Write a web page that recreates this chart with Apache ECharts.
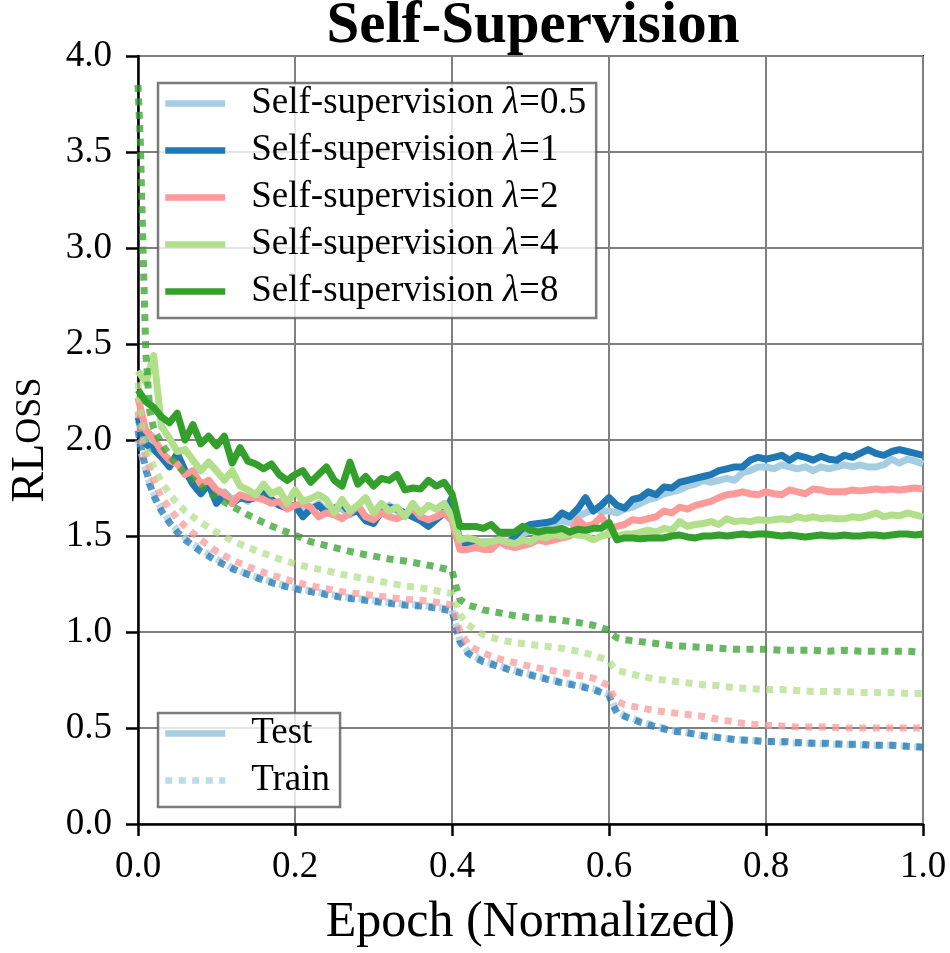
<!DOCTYPE html>
<html>
<head>
<meta charset="utf-8">
<script src="https://cdn.jsdelivr.net/npm/echarts@6/dist/echarts.min.js"></script>
<style>
  html, body { margin: 0; padding: 0; background: #fff; }
  #main { width: 950px; height: 953px; }
</style>
</head>
<body>
<div id="main"></div>
<script>
// 数据：测试曲线每 0.01 一个点（x = 0 ~ 1）
const lambdas = ['0.5', '1', '2', '4', '8'];
const colors = ['#a6cee3', '#1f78b4', '#fb9a99', '#b2df8a', '#33a02c'];

const test05 = [2.10, 2.00, 1.96, 1.92, 1.88, 1.90, 1.83, 1.79, 1.75, 1.76,
  1.70, 1.73, 1.69, 1.71, 1.68, 1.72, 1.70, 1.68, 1.66, 1.67,
  1.65, 1.63, 1.64, 1.67, 1.63, 1.65, 1.64, 1.61, 1.64, 1.60,
  1.58, 1.62, 1.66, 1.63, 1.61, 1.62, 1.59, 1.57, 1.60, 1.63,
  1.66, 1.47, 1.46, 1.46, 1.47, 1.47, 1.48, 1.47, 1.49, 1.51,
  1.53, 1.54, 1.55, 1.565, 1.58, 1.57, 1.60, 1.62, 1.64, 1.63,
  1.63, 1.62, 1.64, 1.65, 1.67, 1.69, 1.70, 1.72, 1.73, 1.74,
  1.76, 1.77, 1.79, 1.78, 1.79, 1.80, 1.79, 1.83, 1.84, 1.86,
  1.86, 1.85, 1.87, 1.86, 1.85, 1.86, 1.84, 1.86, 1.85, 1.86,
  1.87, 1.86, 1.87, 1.86, 1.86, 1.87, 1.90, 1.88, 1.90, 1.89, 1.875];
const test1 = [2.12, 1.98, 1.95, 1.91, 1.86, 1.93, 1.84, 1.77, 1.72, 1.77,
  1.67, 1.72, 1.67, 1.70, 1.69, 1.70, 1.74, 1.69, 1.66, 1.645,
  1.66, 1.60, 1.64, 1.66, 1.62, 1.64, 1.67, 1.62, 1.63, 1.58,
  1.565, 1.63, 1.65, 1.64, 1.62, 1.60, 1.58, 1.55, 1.585, 1.62,
  1.70, 1.46, 1.46, 1.47, 1.46, 1.46, 1.48, 1.45, 1.50, 1.54,
  1.56, 1.565, 1.57, 1.58, 1.62, 1.60, 1.64, 1.70, 1.63, 1.66,
  1.70, 1.66, 1.645, 1.69, 1.70, 1.73, 1.715, 1.755, 1.75, 1.78,
  1.79, 1.80, 1.81, 1.82, 1.84, 1.85, 1.86, 1.86, 1.895, 1.91,
  1.90, 1.91, 1.92, 1.895, 1.92, 1.91, 1.895, 1.915, 1.90, 1.895,
  1.92, 1.91, 1.93, 1.95, 1.93, 1.92, 1.94, 1.95, 1.94, 1.93, 1.92];
const test2 = [2.22, 2.05, 2.01, 1.94, 1.895, 1.875, 1.82, 1.84, 1.77, 1.79,
  1.74, 1.72, 1.67, 1.715, 1.70, 1.70, 1.69, 1.67, 1.68, 1.64,
  1.66, 1.67, 1.65, 1.60, 1.62, 1.61, 1.59, 1.62, 1.66, 1.60,
  1.585, 1.62, 1.60, 1.59, 1.61, 1.645, 1.60, 1.585, 1.60, 1.62,
  1.58, 1.43, 1.43, 1.44, 1.43, 1.43, 1.47, 1.45, 1.44, 1.45,
  1.46, 1.48, 1.47, 1.48, 1.49, 1.50, 1.585, 1.55, 1.56, 1.60,
  1.54, 1.55, 1.56, 1.585, 1.58, 1.59, 1.60, 1.63, 1.62, 1.65,
  1.64, 1.66, 1.67, 1.68, 1.70, 1.715, 1.72, 1.73, 1.72, 1.715,
  1.73, 1.72, 1.715, 1.74, 1.73, 1.72, 1.745, 1.74, 1.73, 1.73,
  1.73, 1.74, 1.735, 1.74, 1.745, 1.74, 1.745, 1.74, 1.745, 1.75, 1.745];
const test4 = [2.36, 2.30, 2.44, 2.07, 2.01, 1.94, 1.95, 1.895, 1.84, 1.885,
  1.84, 1.79, 1.84, 1.76, 1.74, 1.715, 1.77, 1.72, 1.74, 1.67,
  1.74, 1.68, 1.695, 1.715, 1.69, 1.62, 1.69, 1.63, 1.66, 1.70,
  1.62, 1.67, 1.63, 1.65, 1.60, 1.67, 1.62, 1.66, 1.64, 1.67,
  1.60, 1.48, 1.49, 1.48, 1.46, 1.47, 1.48, 1.47, 1.46, 1.48,
  1.47, 1.50, 1.49, 1.51, 1.50, 1.51, 1.505, 1.50, 1.48, 1.50,
  1.51, 1.50, 1.51, 1.51, 1.52, 1.53, 1.52, 1.54, 1.53, 1.575,
  1.55, 1.56, 1.565, 1.575, 1.56, 1.59, 1.575, 1.58, 1.575, 1.585,
  1.58, 1.585, 1.59, 1.585, 1.60, 1.59, 1.60, 1.59, 1.595, 1.59,
  1.59, 1.60, 1.595, 1.605, 1.62, 1.60, 1.61, 1.605, 1.62, 1.61, 1.60];
const test8 = [2.26, 2.20, 2.17, 2.12, 2.09, 2.14, 2.00, 2.08, 1.98, 2.02,
  1.97, 2.02, 1.88, 1.96, 1.89, 1.875, 1.85, 1.875, 1.82, 1.79,
  1.82, 1.84, 1.78, 1.82, 1.86, 1.79, 1.76, 1.885, 1.77, 1.81,
  1.76, 1.80, 1.79, 1.82, 1.74, 1.75, 1.745, 1.79, 1.76, 1.78,
  1.72, 1.55, 1.55, 1.55, 1.54, 1.56, 1.52, 1.52, 1.52, 1.55,
  1.53, 1.52, 1.53, 1.53, 1.54, 1.52, 1.535, 1.53, 1.54, 1.54,
  1.57, 1.48, 1.49, 1.49, 1.485, 1.49, 1.49, 1.49, 1.50, 1.505,
  1.495, 1.49, 1.50, 1.50, 1.505, 1.50, 1.505, 1.51, 1.505, 1.51,
  1.51, 1.505, 1.50, 1.505, 1.50, 1.495, 1.50, 1.505, 1.50, 1.50,
  1.505, 1.50, 1.50, 1.505, 1.505, 1.50, 1.505, 1.51, 1.51, 1.505, 1.51];

// 训练曲线（点距不均匀）
const trainX = [0, 0.003, 0.006, 0.01, 0.015, 0.02, 0.03, 0.04, 0.05, 0.06,
  0.08, 0.10, 0.12, 0.14, 0.16, 0.18, 0.20, 0.22, 0.24, 0.26,
  0.28, 0.30, 0.32, 0.34, 0.36, 0.38, 0.40, 0.405, 0.41, 0.42,
  0.43, 0.44, 0.46, 0.48, 0.50, 0.52, 0.54, 0.56, 0.58, 0.60,
  0.605, 0.61, 0.62, 0.64, 0.66, 0.68, 0.70, 0.72, 0.74, 0.76,
  0.78, 0.80, 0.82, 0.84, 0.86, 0.88, 0.90, 0.92, 0.94, 0.96,
  0.98, 1.00];
const train05 = [2.00, 1.95, 1.90, 1.84, 1.77, 1.72, 1.64, 1.58, 1.53, 1.49,
  1.43, 1.38, 1.335, 1.30, 1.275, 1.25, 1.23, 1.215, 1.20, 1.185,
  1.175, 1.165, 1.155, 1.145, 1.14, 1.13, 1.115, 1.04, 0.96, 0.90,
  0.87, 0.85, 0.825, 0.80, 0.78, 0.76, 0.74, 0.725, 0.705, 0.675,
  0.63, 0.59, 0.565, 0.535, 0.51, 0.49, 0.475, 0.46, 0.45, 0.44,
  0.435, 0.43, 0.425, 0.42, 0.42, 0.415, 0.415, 0.41, 0.41, 0.41,
  0.405, 0.40];
const train1 = [2.05, 1.98, 1.92, 1.85, 1.77, 1.71, 1.63, 1.57, 1.52, 1.48,
  1.42, 1.37, 1.33, 1.30, 1.27, 1.245, 1.225, 1.21, 1.195, 1.18,
  1.17, 1.16, 1.15, 1.14, 1.135, 1.125, 1.11, 1.03, 0.95, 0.89,
  0.865, 0.845, 0.82, 0.795, 0.775, 0.755, 0.735, 0.72, 0.70, 0.67,
  0.62, 0.58, 0.56, 0.53, 0.505, 0.485, 0.475, 0.46, 0.45, 0.44,
  0.435, 0.43, 0.43, 0.425, 0.42, 0.42, 0.415, 0.415, 0.41, 0.41,
  0.405, 0.40];
const train2 = [2.15, 2.05, 1.98, 1.92, 1.85, 1.79, 1.70, 1.645, 1.59, 1.55,
  1.48, 1.42, 1.375, 1.34, 1.31, 1.285, 1.26, 1.24, 1.225, 1.21,
  1.20, 1.19, 1.18, 1.17, 1.165, 1.155, 1.14, 1.08, 1.00, 0.94,
  0.91, 0.89, 0.86, 0.84, 0.82, 0.805, 0.79, 0.775, 0.76, 0.72,
  0.67, 0.64, 0.62, 0.605, 0.59, 0.58, 0.57, 0.56, 0.545, 0.53,
  0.52, 0.515, 0.51, 0.505, 0.505, 0.505, 0.50, 0.50, 0.50, 0.50,
  0.50, 0.50];
const train4 = [2.30, 2.15, 2.05, 1.97, 1.91, 1.86, 1.78, 1.72, 1.67, 1.63,
  1.57, 1.52, 1.475, 1.44, 1.41, 1.38, 1.355, 1.335, 1.32, 1.30,
  1.285, 1.27, 1.255, 1.24, 1.23, 1.215, 1.20, 1.15, 1.09, 1.04,
  1.01, 0.985, 0.96, 0.945, 0.935, 0.925, 0.915, 0.90, 0.88, 0.85,
  0.82, 0.80, 0.79, 0.77, 0.755, 0.745, 0.735, 0.725, 0.72, 0.71,
  0.705, 0.70, 0.70, 0.695, 0.69, 0.69, 0.69, 0.685, 0.685, 0.685,
  0.68, 0.68];
const train8 = [3.85, 3.55, 3.05, 2.45, 2.15, 2.06, 1.98, 1.92, 1.87, 1.83,
  1.76, 1.70, 1.655, 1.61, 1.57, 1.535, 1.505, 1.47, 1.45, 1.43,
  1.41, 1.395, 1.38, 1.37, 1.355, 1.34, 1.32, 1.24, 1.17, 1.14,
  1.13, 1.115, 1.10, 1.085, 1.075, 1.07, 1.06, 1.05, 1.035, 1.01,
  0.985, 0.97, 0.96, 0.95, 0.94, 0.93, 0.925, 0.92, 0.915, 0.91,
  0.91, 0.91, 0.905, 0.905, 0.905, 0.90, 0.905, 0.90, 0.90, 0.90,
  0.90, 0.895];

const testSets = [test05, test1, test2, test4, test8];
const trainSets = [train05, train1, train2, train4, train8];
const testX = test05.map((_, i) => i / 100);
const names = lambdas.map(l => 'Self-supervision λ=' + l);

const FONT = 'Liberation Serif';
const LW = 7;
const dotted = [7, 6.5];

let series = [];
lambdas.forEach((l, k) => {
    series.push({
        name: names[k],
        type: 'line',
        symbol: 'none',
        color: colors[k],
        lineStyle: { width: LW, color: colors[k], join: 'round' },
        data: testSets[k].map((v, i) => [testX[i], v]),
        z: 2 + k
    });
    series.push({
        name: 'train ' + l,
        type: 'line',
        symbol: 'none',
        color: colors[k],
        lineStyle: { width: LW, color: colors[k], type: dotted, opacity: 0.75 },
        data: trainSets[k].map((v, i) => [trainX[i], v]),
        z: 2 + k
    });
});
// 第二个图例用的空系列
series.push({
    name: 'Test', type: 'line', symbol: 'none', color: colors[0],
    lineStyle: { width: LW, color: colors[0] }, data: []
});
series.push({
    name: 'Train', type: 'line', symbol: 'none', color: colors[0],
    lineStyle: { width: LW, color: colors[0], type: dotted, opacity: 0.75 }, data: []
});

const legendCommon = {
    orient: 'vertical',
    selectedMode: false,
    itemWidth: 60,
    itemHeight: 14,
    itemGap: 10,
    backgroundColor: 'rgba(255,255,255,0.8)',
    borderColor: 'rgba(90,90,90,0.8)',
    borderWidth: 2.5,
    borderRadius: 0,
    itemStyle: { opacity: 0, borderWidth: 0 },
    lineStyle: { width: 6.5 },
    textStyle: {
        fontFamily: FONT,
        fontSize: 37,
        color: '#000',
        lineHeight: 36,
        padding: [0, 0, 0, 21],
        rich: {
            i: { fontFamily: FONT, fontSize: 37, fontStyle: 'italic', color: '#000' }
        }
    }
};

let myChart = echarts.init(document.getElementById('main'));
myChart.setOption({
    animation: false,
    title: {
        text: 'Self-Supervision',
        left: 528,
        top: -8,
        textAlign: 'center',
        textStyle: { fontFamily: FONT, fontSize: 59, fontWeight: 'bold', color: '#000' }
    },
    legend: [
        Object.assign({}, legendCommon, {
            data: names,
            left: 158,
            top: 83,
            padding: [2, 10, 8, 4],
            formatter: name => name.replace('λ', '{i|λ}')
        }),
        Object.assign({}, legendCommon, {
            data: ['Test', 'Train'],
            left: 158,
            top: 713,
            padding: [2, 10, 8, 4]
        })
    ],
    grid: {
        left: 133, right: 27, top: 56, bottom: 123,
        show: true, borderColor: '#000', borderWidth: 2
    },
    xAxis: {
        type: 'value',
        min: 0, max: 1, interval: 0.2,
        name: 'Epoch (Normalized)',
        nameLocation: 'middle',
        nameGap: 74,
        nameTextStyle: { fontFamily: FONT, fontSize: 50, color: '#000' },
        axisLine: { show: true, lineStyle: { color: '#000', width: 2.5 } },
        axisTick: { show: true, length: 12, lineStyle: { color: '#000', width: 2.5 } },
        axisLabel: {
            fontFamily: FONT, fontSize: 37, color: '#000', margin: 25,
            formatter: v => v.toFixed(1)
        },
        splitLine: { show: true, lineStyle: { color: '#808080', width: 2 } }
    },
    yAxis: {
        type: 'value',
        min: 0, max: 4, interval: 0.5,
        name: '{c|RL}{s|OSS}',
        nameLocation: 'middle',
        nameGap: 84,
        nameTextStyle: {
            color: '#000',
            rich: {
                c: { fontFamily: FONT, fontSize: 46, color: '#000' },
                s: { fontFamily: FONT, fontSize: 36, color: '#000' }
            }
        },
        axisLine: { show: true, lineStyle: { color: '#000', width: 2.5 } },
        axisTick: { show: true, length: 12, lineStyle: { color: '#000', width: 2.5 } },
        axisLabel: {
            fontFamily: FONT, fontSize: 37, color: '#000', margin: 26,
            formatter: v => v.toFixed(1)
        },
        splitLine: { show: true, lineStyle: { color: '#808080', width: 2 } }
    },
    series: series
});
</script>
</body>
</html>
